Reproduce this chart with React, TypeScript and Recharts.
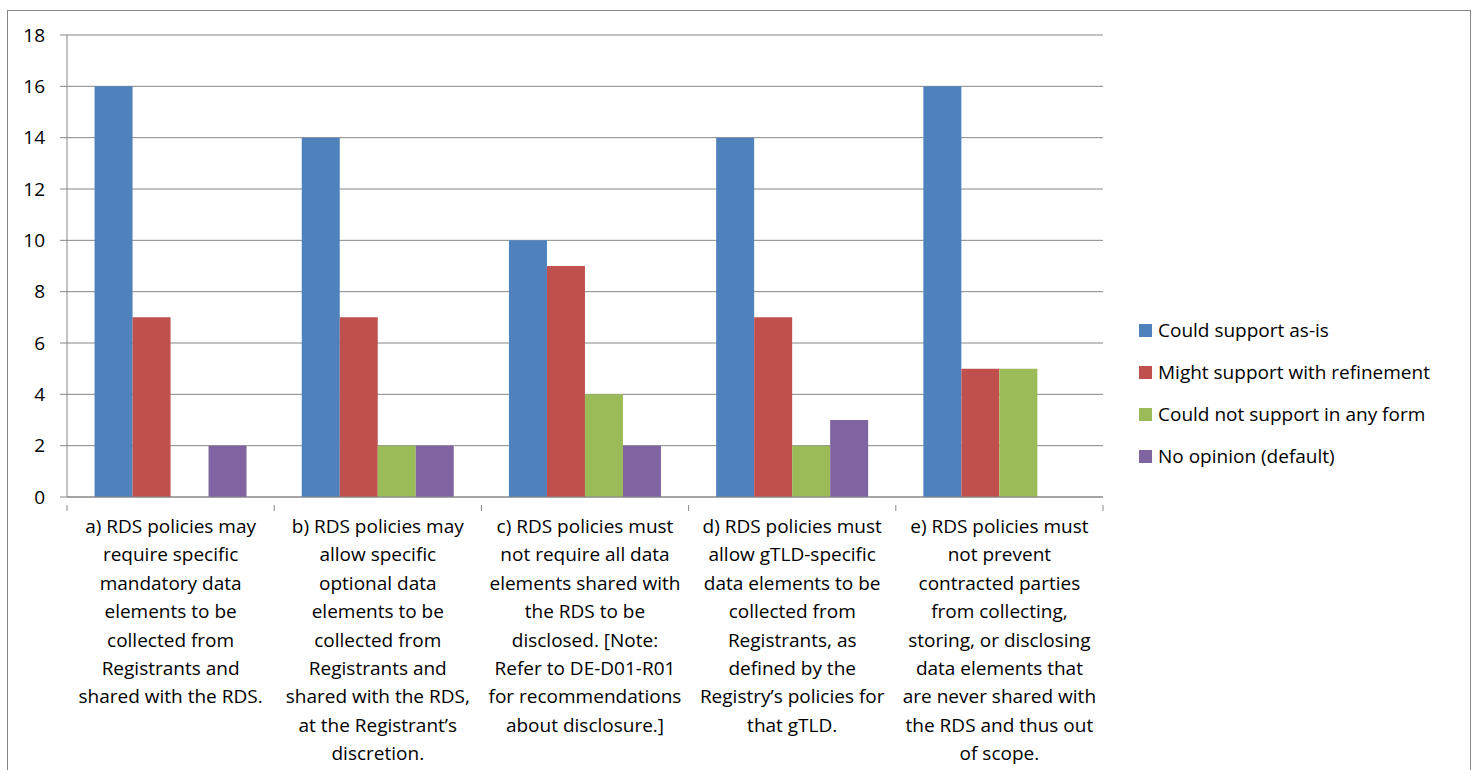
import { BarChart, Bar, XAxis, YAxis, CartesianGrid } from "recharts";

// categories, split into the lines used on the axis
const categories = [
  ["a) RDS policies may", "require specific", "mandatory data", "elements to be", "collected from", "Registrants and", "shared with the RDS."],
  ["b) RDS policies may", "allow specific", "optional data", "elements to be", "collected from", "Registrants and", "shared with the RDS,", "at the Registrant\u2019s", "discretion."],
  ["c) RDS policies must", "not require all data", "elements shared with", "the RDS to be", "disclosed. [Note:", "Refer to DE-D01-R01", "for recommendations", "about disclosure.]"],
  ["d) RDS policies must", "allow gTLD-specific", "data elements to be", "collected from", "Registrants, as", "defined by the", "Registry\u2019s policies for", "that gTLD."],
  ["e) RDS policies must", "not prevent", "contracted parties", "from collecting,", "storing, or disclosing", "data elements that", "are never shared with", "the RDS and thus out", "of scope."],
];

const couldSupport = [16, 14, 10, 14, 16];
const mightSupport = [7, 7, 9, 7, 5];
const couldNotSupport = [0, 2, 4, 2, 5];
const noOpinion = [2, 2, 2, 3, 0];

const yTicks = [0, 2, 4, 6, 8, 10, 12, 14, 16, 18];

const series = [
  { key: "could", name: "Could support as-is", color: "#4F81BD" },
  { key: "might", name: "Might support with refinement", color: "#C0504D" },
  { key: "not", name: "Could not support in any form", color: "#9BBB59" },
  { key: "none", name: "No opinion (default)", color: "#8064A2" },
];

const data = categories.map((lines, i) => ({
  name: lines.join(" "),
  idx: i,
  could: couldSupport[i],
  might: mightSupport[i],
  not: couldNotSupport[i],
  none: noOpinion[i],
}));

const FONT = "'Open Sans', 'Noto Sans', sans-serif";
const FS = 19;
const PLOT_LEFT = 67;
const PLOT_RIGHT = 1103;
const BAND = (PLOT_RIGHT - PLOT_LEFT) / categories.length;

function CategoryTick(props: any) {
  const { x, y, payload, index } = props;
  const lines = categories[payload.index ?? index] || [];
  const left = x - BAND / 2;
  return (
    <g>
      <line x1={left} y1={y} x2={left} y2={y + 6} stroke="#868686" />
      {index === categories.length - 1 && (
        <line x1={left + BAND} y1={y} x2={left + BAND} y2={y + 6} stroke="#868686" />
      )}
      <text x={x} y={y + 28} textAnchor="middle" fontSize={FS} fill="#000" fontFamily={FONT}>
        {lines.map((l: string, k: number) => (
          <tspan key={k} x={x} dy={k === 0 ? 0 : 28.4}>
            {l}
          </tspan>
        ))}
      </text>
    </g>
  );
}

export default function App() {
  return (
    <div style={{ position: "absolute", left: 0, top: 0, width: 1480, height: 770, background: "#fff" }}>
      <div
        style={{
          position: "absolute",
          left: 7,
          top: 10,
          width: 1462,
          height: 800,
          border: "1px solid #868686",
        }}
      />
      <div style={{ position: "absolute", left: 0, top: 0 }}>
        <BarChart
          width={1480}
          height={770}
          data={data}
          margin={{ top: 35, right: 1480 - PLOT_RIGHT, bottom: 0, left: 7 }}
          barCategoryGap="13.3%"
          barGap={0}
        >
          <CartesianGrid horizontal vertical={false} stroke="#868686" />
          <XAxis
            dataKey="name"
            axisLine={{ stroke: "#868686" }}
            tickLine={false}
            interval={0}
            height={273}
            tick={<CategoryTick />}
          />
          <YAxis
            domain={[0, 18]}
            ticks={yTicks}
            width={60}
            axisLine={{ stroke: "#868686" }}
            tickLine={{ stroke: "#868686" }}
            tickSize={7}
            tickMargin={15}
            tick={{ fontSize: FS, fill: "#000", fontFamily: FONT }}
          />
          {series.map((s) => (
            <Bar key={s.key} dataKey={s.key} name={s.name} fill={s.color} isAnimationActive={false} />
          ))}
        </BarChart>
      </div>
      <div style={{ position: "absolute", left: 1139, top: 309, fontFamily: FONT, fontSize: FS, color: "#000" }}>
        {series.map((s) => (
          <div key={s.key} style={{ display: "flex", alignItems: "center", height: 42 }}>
            <span style={{ width: 13, height: 13, background: s.color, marginRight: 6, display: "inline-block" }} />
            {s.name}
          </div>
        ))}
      </div>
    </div>
  );
}
